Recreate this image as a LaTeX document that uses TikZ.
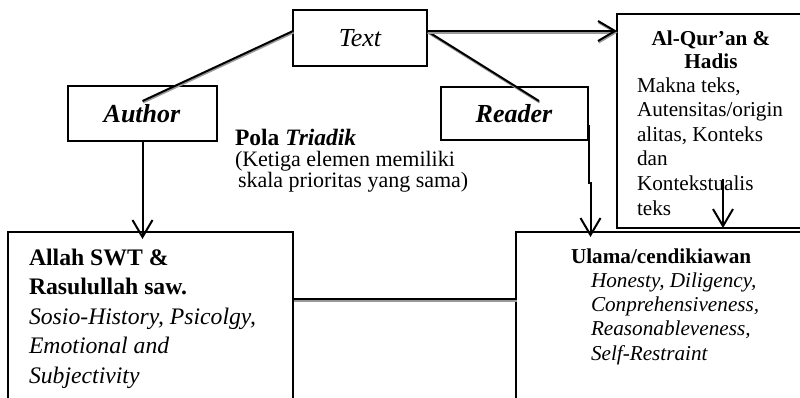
\documentclass[tikz,border=0pt]{standalone}
\usepackage{fontspec}
\setmainfont{Liberation Serif}
\usetikzlibrary{arrows.meta,calc}

\begin{document}
\begin{tikzpicture}[x=1pt,y=-1pt,
  box/.style={draw, line width=1.9pt, inner sep=0pt, outer sep=0pt, rectangle},
  lbl/.style={inner sep=0pt, outer sep=0pt},
  link/.style={line width=2pt},
  shadowed/.style={preaction={draw=black!40, line width=2pt,
      transform canvas={shift={(0.6pt,-1.5pt)}}}},
  arr/.style={line width=2pt,
      -{Straight Barb[length=17pt,width=20pt,line width=2pt]}},
]
\useasboundingbox (0,0) rectangle (800,397);
\clip (0,0) rectangle (800,397);

% boxes
\node[box, minimum width=134pt, minimum height=56pt] (textbox) at (360,38) {};
\node[box, minimum width=149pt, minimum height=55pt] (author) at (142.5,113.5) {};
\node[box, minimum width=147pt, minimum height=53pt] (reader) at (514.5,113.5) {};
\node[box, minimum width=188pt, minimum height=214pt] (quran) at (711,121) {};
\node[box, minimum width=285pt, minimum height=200pt] (allah) at (150.5,332) {};
\node[box, minimum width=300pt, minimum height=200pt] (ulama) at (666,332) {};

% box labels (multi-line labels are placed by the baseline of their last line)
\node[lbl, font=\fontsize{26}{30}\selectfont\itshape, anchor=base] (textlbl) at (360,46) {Text};
\node[lbl, font=\fontsize{26}{30}\selectfont\bfseries\itshape, anchor=base] (authorlbl) at (142,122) {Author};
\node[lbl, font=\fontsize{26}{30}\selectfont\bfseries\itshape, anchor=base] (readerlbl) at (514,122) {Reader};

% triadic pattern note
\node[lbl, font=\fontsize{22}{21}\selectfont, anchor=base west, align=left] (pola) at (235,187)
  {{\fontsize{23.5}{21}\selectfont\textbf{Pola \textit{Triadik}}}\\(Ketiga elemen memiliki\\\hspace*{3pt}skala prioritas yang sama)};

% source box
\node[lbl, font=\fontsize{21.2}{23}\selectfont\bfseries, anchor=base, align=center] (qtitle) at (711,68)
  {Al-Qur’an \&\\Hadis};
\node[lbl, font=\fontsize{21.2}{24.6}\selectfont, anchor=base west, align=left] (qbody) at (637,215)
  {Makna teks,\\Autensitas/origin\\alitas, Konteks\\dan\\Kontekstualis\\teks};

% author side
\node[lbl, font=\fontsize{23.7}{29.5}\selectfont, anchor=base west, align=left] (allahlbl) at (29,383)
  {\textbf{Allah SWT \&}\\\textbf{Rasulullah saw.}\\\textit{Sosio-History, Psicolgy,}\\\textit{Emotional and}\\\textit{Subjectivity}};

% reader side
\node[lbl, font=\fontsize{21.2}{24.3}\selectfont\bfseries, anchor=base west] (ulamatitle) at (571,263)
  {Ulama/cendikiawan};
\node[lbl, font=\fontsize{21.2}{24.3}\selectfont\itshape, anchor=base west, align=left] (ulamabody) at (591,360)
  {Honesty, Diligency,\\Conprehensiveness,\\Reasonableveness,\\Self-Restraint};

% connectors
\draw[link, shadowed] ([yshift=7pt]textbox.west) -- ([yshift=12.5pt]author.center);
\draw[link, shadowed] ([yshift=7pt]textbox.east) -- ([shift={(24.5pt,12.5pt)}]reader.center);
\draw[arr, shadowed] ([yshift=7pt]textbox.east) -- ([yshift=7pt]textbox.east -| quran.west);
\draw[arr, shorten >=-7pt] (author.south) -- (author.south |- allah.north);
\draw[arr, shorten >=-5pt] ([shift={(1,11.5)}]reader.east) -- ++(0,58) -- ++(1.5,0) coordinate (rjog)
  -- (rjog |- ulama.north);
\coordinate (qstart) at (723,179);
\draw[arr] (qstart) -- (qstart |- quran.south);
\draw[link, shadowed] ([yshift=-67pt]allah.north east) -- ([yshift=-67pt]ulama.north west);
\end{tikzpicture}
\end{document}
